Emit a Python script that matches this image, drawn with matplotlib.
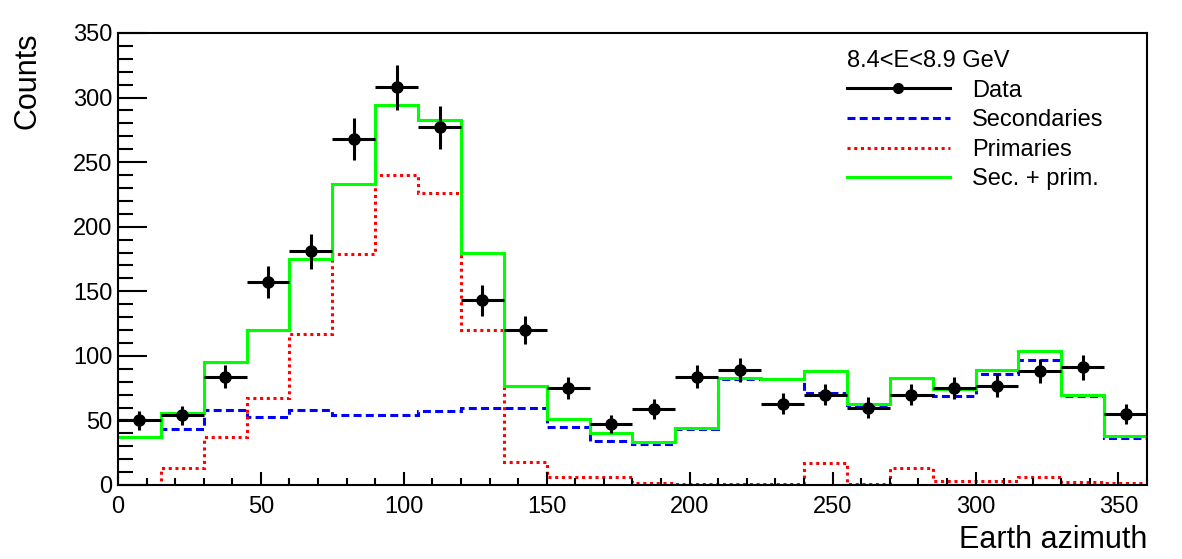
import numpy as np
import matplotlib
matplotlib.use("Agg")
import matplotlib.pyplot as plt
from matplotlib.lines import Line2D

plt.rcParams["font.family"] = ["Liberation Sans", "DejaVu Sans"]

# bin edges: 0..360 in 15 degree steps
edges = np.arange(0, 361, 15)
centers = edges[:-1] + 7.5

data = [50, 54, 84, 157, 181, 268, 308, 277, 143, 120, 75, 47,
        59, 84, 89, 63, 70, 60, 70, 75, 77, 88, 91, 55]
secondaries = [37, 43, 58, 53, 58, 54, 54, 57, 60, 60, 45, 34,
               32, 43, 82, 82, 71, 62, 70, 69, 86, 97, 69, 36]
primaries = [0, 13, 37, 67, 117, 179, 240, 226, 120, 18, 6, 6,
             1.5, 1, 0.5, 0.5, 17, 0.5, 13, 3, 3, 6.5, 2, 1.5]
sec_prim = [37, 56, 95, 120, 175, 233, 294, 283, 180, 77, 51, 40,
            33, 44, 83, 82, 88, 63, 83, 74, 89, 104, 70, 38]

lw = 2.2
fig = plt.figure(figsize=(11.82, 5.59), dpi=100)
ax = fig.add_axes([0.0998, 0.1324, 0.8706, 0.8086])

ax.stairs(secondaries, edges, baseline=None, color="#0000ff", lw=lw,
          linestyle=(0, (2.6, 1.4)))
ax.stairs(primaries, edges, baseline=None, color="#ff0000", lw=lw,
          linestyle=(0, (1, 1.2)))
ax.stairs(sec_prim, edges, baseline=None, color="#00ff00", lw=lw)
ax.errorbar(centers, data, xerr=7.5, yerr=np.sqrt(data), fmt="o", color="k",
            ms=8, elinewidth=lw, capsize=0, zorder=5)

ax.set_xlim(0, 360)
ax.set_ylim(0, 350)
ax.set_xticks(np.arange(0, 351, 50))
ax.set_xticks(np.arange(0, 361, 10), minor=True)
ax.set_yticks(np.arange(0, 351, 50))
ax.set_yticks(np.arange(0, 351, 10), minor=True)

for s in ax.spines.values():
    s.set_linewidth(1.5)
ax.tick_params(axis="both", which="both", direction="in", width=1.5,
               labelsize=17, top=False, right=False)
ax.tick_params(axis="x", which="major", length=9.5, pad=8)
ax.tick_params(axis="x", which="minor", length=4.7)
ax.tick_params(axis="y", which="major", length=21, pad=4)
ax.tick_params(axis="y", which="minor", length=11)

ax.set_xlabel("Earth azimuth", fontsize=22, loc="right", labelpad=5)
ax.set_ylabel("Counts", fontsize=22, loc="top", labelpad=22)

handles = [
    Line2D([], [], color="k", lw=lw, marker="o", ms=7),
    Line2D([], [], color="#0000ff", lw=lw, linestyle=(0, (2.6, 1.4))),
    Line2D([], [], color="#ff0000", lw=lw, linestyle=(0, (1, 1.2))),
    Line2D([], [], color="#00ff00", lw=lw),
]
labels = ["Data", "Secondaries", "Primaries", "Sec. + prim."]
leg = ax.legend(handles, labels, title="8.4<E<8.9 GeV", loc="upper left",
                bbox_to_anchor=(0.708, 0.962), frameon=False, fontsize=17,
                title_fontsize=17, handlelength=4.4, handletextpad=0.9,
                labelspacing=0.32, borderpad=0, borderaxespad=0,
                alignment="left", numpoints=1)

fig.savefig("out.png", dpi=100)
